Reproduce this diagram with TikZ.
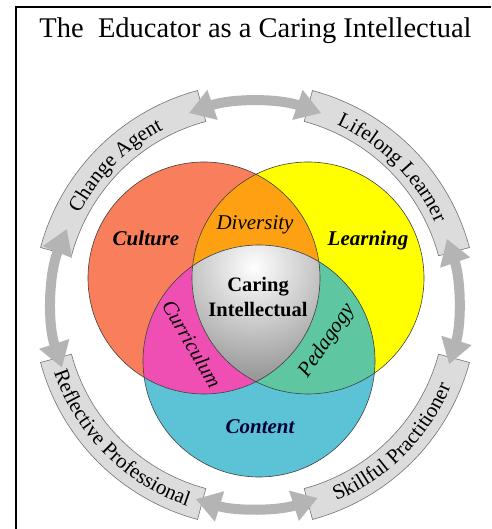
\documentclass[tikz,border=0pt]{standalone}
\usepackage{fontspec}
\setmainfont{Liberation Serif}
\usetikzlibrary{arrows.meta,calc,decorations.text}
\definecolor{edculture}{HTML}{F97F5C}
\definecolor{edlearning}{HTML}{FFFF00}
\definecolor{edcontent}{HTML}{5CC3D6}
\definecolor{eddiversity}{HTML}{FDA012}
\definecolor{edcurriculum}{HTML}{EF4FB3}
\definecolor{edpedagogy}{HTML}{5EC7A2}
\definecolor{edring}{HTML}{DCDCDC}
\definecolor{edarrow}{HTML}{B4B4B4}
\newcommand{\bandfont}{\fontsize{21}{21}\selectfont}

\begin{document}
\begin{tikzpicture}[x=1pt,y=1pt,
    band/.style={draw=black!55,line width=0.6pt,fill=edring},
    roundarrow/.style={line width=10pt,draw=edarrow,
      {Triangle[length=25pt,width=30pt]}-{Triangle[length=25pt,width=30pt]}},
    vennline/.style={draw=black!75,line width=0.6pt},
    sphere/.style={font=\fontsize{21}{24}\selectfont\bfseries\itshape},
    overlap/.style={font=\fontsize{21}{24}\selectfont\itshape},
    core/.style={font=\fontsize{20.5}{25}\selectfont\bfseries,align=center},
    bandtext/.style={decorate,decoration={text along path,text align=center,
      text={|\bandfont|#1}}}
  ]
    \useasboundingbox (0,0) rectangle (491,529);
    \fill[white] (0,0) rectangle (491,529);
    \draw[line width=1.6pt] (16,0) -- (16,522) -- (491,522);
    \node[anchor=base,font=\fontsize{28.5}{30}\selectfont] (title) at (255.5,491)
      {The\ \ Educator as a Caring Intellectual};

    % ring of roles
    \coordinate (ctr) at (255,224);
    \foreach \a/\b in {105/165,15/75,195/255,285/345}
      \draw[band] ($(ctr)+(\a:222)$) arc (\a:\b:222) -- ($(ctr)+(\b:190)$)
        arc (\b:\a:190) -- cycle;
    \path[bandtext=Change Agent] ($(ctr)+(166:198)$) arc (166:104:198);
    \path[bandtext=Lifelong Learner] ($(ctr)+(76:198)$) arc (76:14:198);
    \path[bandtext=Reflective Professional] ($(ctr)+(194:212)$) arc (194:256:212);
    \path[bandtext=Skillful Practitioner] ($(ctr)+(284:212)$) arc (284:346:212);

    \coordinate (top) at ($(ctr)+(109:203)$);
    \coordinate (lft) at ($(ctr)+(198:203)$);
    \coordinate (bot) at ($(ctr)+(253:203)$);
    \coordinate (rgt) at ($(ctr)+(-17:203)$);
    \draw[roundarrow] (top) arc (109:71:203);
    \draw[roundarrow] (lft) arc (198:158:203);
    \draw[roundarrow] (bot) arc (253:288:203);
    \draw[roundarrow] (rgt) arc (-17:19:203);

    % three circles
    \coordinate (cu) at (204,251);
    \coordinate (le) at (308,251);
    \coordinate (co) at (259,168);
    \fill[edculture] (cu) circle (116);
    \fill[edlearning] (le) circle (116);
    \fill[edcontent] (co) circle (116);
    \begin{scope}
      \clip (cu) circle (116);
      \fill[eddiversity] (le) circle (116);
      \fill[edcurriculum] (co) circle (116);
    \end{scope}
    \begin{scope}
      \clip (le) circle (116);
      \fill[edpedagogy] (co) circle (116);
    \end{scope}
    \begin{scope}
      \clip (cu) circle (116);
      \clip (le) circle (116);
      \clip (co) circle (116);
      \shade[inner color=white,outer color=black!55] (254,262) circle (150);
    \end{scope}
    \draw[vennline] (cu) circle (116);
    \draw[vennline] (le) circle (116);
    \draw[vennline] (co) circle (116);

    \node[sphere] (culture) at (146,291) {Culture};
    \node[sphere] (learning) at (368,289) {Learning};
    \node[sphere,text=black!80!blue] (content) at (260,102) {Content};
    \node[overlap] (diversity) at (255,304) {Diversity};
    \node[overlap,rotate=-60] (curriculum) at (192,185) {Curriculum};
    \node[overlap,rotate=56] (pedagogy) at (327,188) {Pedagogy};
    \node[core] (caring) at (258,232) {Caring\\Intellectual};
  \end{tikzpicture}
\end{document}
